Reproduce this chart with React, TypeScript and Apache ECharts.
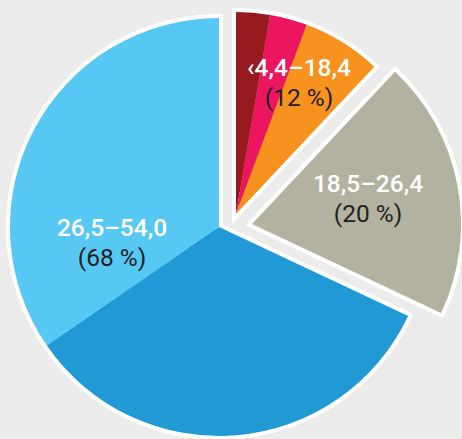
import React, { useEffect, useRef } from "react";
import * as echarts from "echarts";

// ---- data ----
const groupLabels = ["‹4,4–18,4", "18,5–26,4", "26,5–54,0"];
const groupShares = [12, 20, 68];
const sliceValues = [
  [2.7, 3.0, 6.3],
  [20],
  [33.4, 34.6],
];

// ---- styles / layout ----
const sliceColors = [
  ["#961a1e", "#ec1660", "#f7921e"],
  ["#b3b2a0"],
  ["#2199d5", "#57c8f4"],
];
const groupCenters = [
  [236, 214],
  [252, 224],
  [219, 227],
];
const groupRadii = [202, 209, 209];
const labelPos = [
  [299, 67, 97],
  [368, 183, 213],
  [112, 227, 257],
];

export default function App() {
  const ref = useRef<HTMLDivElement>(null);
  useEffect(() => {
    if (!ref.current) return;
    const chart = echarts.init(ref.current, null, { renderer: "svg" });
    const series: any[] = [];
    let before = 0;
    const filler = (v: number) => ({
      value: v,
      itemStyle: { color: "transparent", borderWidth: 0 },
    });
    groupShares.forEach((share, g) => {
      const after = 100 - before - share;
      const common = {
        type: "pie",
        center: groupCenters[g],
        radius: groupRadii[g],
        startAngle: 90,
        clockwise: true,
        silent: true,
        animation: false,
        label: { show: false },
        labelLine: { show: false },
        emphasis: { disabled: true },
      };
      const pre = before > 0 ? [filler(before)] : [];
      const post = after > 0 ? [filler(after)] : [];
      const cols = sliceColors[g];
      series.push({
        ...common,
        data: [
          ...pre,
          {
            value: share,
            itemStyle: {
              color: cols[cols.length - 1],
              borderColor: "#ffffff",
              borderWidth: 8,
              borderJoin: "miter",
            },
          },
          ...post,
        ],
      });
      series.push({
        ...common,
        data: [
          ...pre,
          ...sliceValues[g].map((v, i) => ({
            value: v,
            itemStyle: { color: cols[i], borderWidth: 0 },
          })),
          ...post,
        ],
      });
      before += share;
    });

    const graphics: any[] = [];
    groupLabels.forEach((lab, g) => {
      const [x, y1, y2] = labelPos[g];
      graphics.push({
        type: "text",
        x,
        y: y1,
        z: 100,
        style: {
          text: lab,
          fill: "#ffffff",
          font: "500 24.5px Roboto",
          textAlign: "center",
          textVerticalAlign: "middle",
        },
      });
      graphics.push({
        type: "text",
        x,
        y: y2,
        z: 100,
        style: {
          text: `(${groupShares[g]} %)`,
          fill: "#231f20",
          font: "400 24.5px Roboto",
          textAlign: "center",
          textVerticalAlign: "middle",
        },
      });
    });

    chart.setOption({
      animation: false,
      backgroundColor: "#ececec",
      series,
      graphic: { elements: graphics },
    });
    return () => chart.dispose();
  }, []);
  return (
    <div
      ref={ref}
      style={{ position: "fixed", left: 0, top: 0, width: 462, height: 439 }}
    />
  );
}
